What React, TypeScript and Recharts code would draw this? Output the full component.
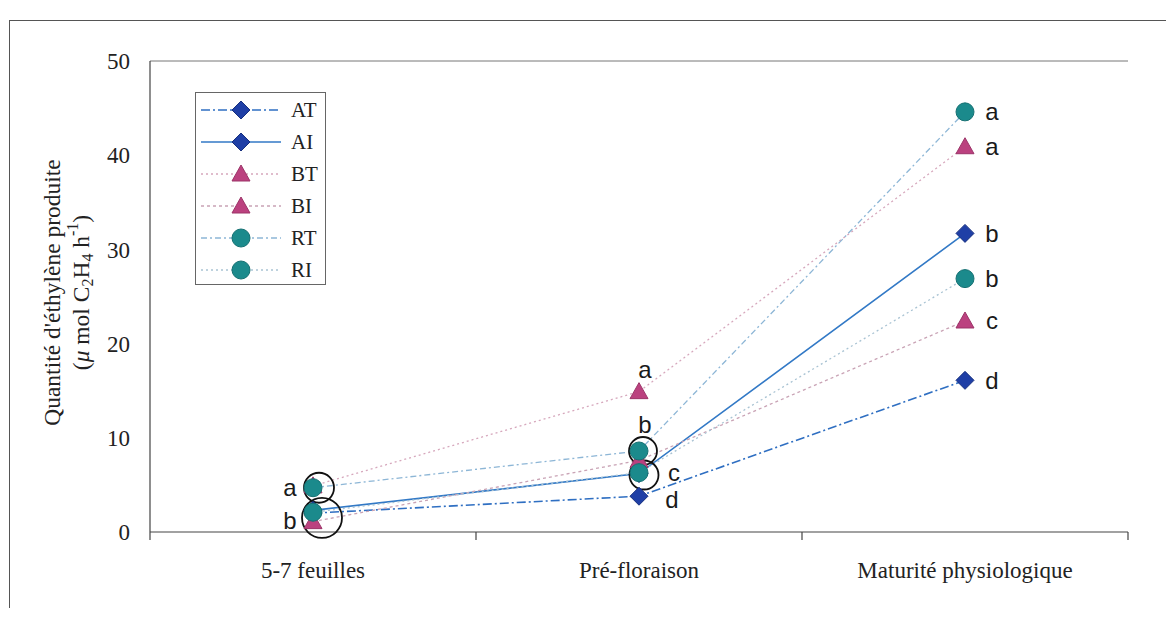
import React from 'react'
import {
  LineChart,
  Line,
  XAxis,
  YAxis,
  Legend,
  LabelList,
  ReferenceDot,
  ReferenceLine,
} from 'recharts'

const STAGES = ['5-7 feuilles', 'Pré-floraison', 'Maturité physiologique']
const Y_TICKS = [0, 10, 20, 30, 40, 50]

const AT = [2.0, 3.8, 16.1]
const AI = [2.3, 6.2, 31.7]
const BT = [4.9, 14.9, 40.9]
const BI = [1.1, 7.6, 22.4]
const RT = [4.7, 8.6, 44.6]
const RI = [2.1, 6.3, 26.9]

// significance letters, one per stage ('' = none drawn)
const AT_LETTERS = ['', 'd', 'd']
const AI_LETTERS = ['', '', 'b']
const BT_LETTERS = ['', 'a', 'a']
const BI_LETTERS = ['', '', 'c']
const RT_LETTERS = ['a', 'b', 'a']
const RI_LETTERS = ['b', 'c', 'b']

const SERIF = '"Liberation Serif", "Times New Roman", serif'
const SANS = '"Liberation Sans", Arial, sans-serif'

type Kind = 'diamond' | 'triangle' | 'circle'

const FILLS: Record<Kind, { fill: string; stroke: string }> = {
  diamond: { fill: '#1f3fa6', stroke: '#17307f' },
  triangle: { fill: '#bb417f', stroke: '#9c3468' },
  circle: { fill: '#1b8a8c', stroke: '#157072' },
}

const SERIES = [
  { key: 'AT', values: AT, letters: AT_LETTERS, kind: 'diamond' as Kind, color: '#2f6fc2', dash: '9 3 2 3', width: 1.6,
    offsets: [[0, 0], [33, 3], [27, 0]] },
  { key: 'AI', values: AI, letters: AI_LETTERS, kind: 'diamond' as Kind, color: '#3279c6', dash: undefined, width: 1.6,
    offsets: [[0, 0], [0, 0], [27, 0]] },
  { key: 'BT', values: BT, letters: BT_LETTERS, kind: 'triangle' as Kind, color: '#d6a7bc', dash: '2 3', width: 1.3,
    offsets: [[0, 0], [6, -22], [27, 0]] },
  { key: 'BI', values: BI, letters: BI_LETTERS, kind: 'triangle' as Kind, color: '#c9a3b5', dash: '3 3', width: 1.3,
    offsets: [[0, 0], [0, 0], [27, 0]] },
  { key: 'RT', values: RT, letters: RT_LETTERS, kind: 'circle' as Kind, color: '#8db6d6', dash: '6 3 2 3', width: 1.3,
    offsets: [[-23, 0], [6, -26], [27, 0]] },
  { key: 'RI', values: RI, letters: RI_LETTERS, kind: 'circle' as Kind, color: '#a9c3d3', dash: '2 3', width: 1.3,
    offsets: [[-23, 8], [35, 0], [27, 0]] },
]

const data = STAGES.map((stage, i) => {
  const row: Record<string, string | number> = { stage }
  SERIES.forEach(s => { row[s.key] = s.values[i] })
  return row
})

// hand-drawn rings around the clustered points
const RINGS = [
  { stage: 0, y: RT[0], r: 15, dx: 6 },
  { stage: 0, y: 1.5, r: 20, dx: 9 },
  { stage: 1, y: RT[1], r: 14, dx: 4 },
  { stage: 1, y: 6.05, r: 14.5, dx: 5 },
]

const X_TICK_MARGIN = 30

function Marker({ kind, cx, cy }: { kind: Kind; cx: number; cy: number }) {
  const { fill, stroke } = FILLS[kind]
  if (kind === 'diamond') {
    return (
      <polygon
        points={`${cx},${cy - 9} ${cx + 9},${cy} ${cx},${cy + 9} ${cx - 9},${cy}`}
        fill={fill}
        stroke={stroke}
        strokeWidth={1}
      />
    )
  }
  if (kind === 'triangle') {
    return (
      <polygon
        points={`${cx},${cy - 9} ${cx + 9},${cy + 7} ${cx - 9},${cy + 7}`}
        fill={fill}
        stroke={stroke}
        strokeWidth={1}
      />
    )
  }
  return <circle cx={cx} cy={cy} r={9} fill={fill} stroke={stroke} strokeWidth={1} />
}

// stage label plus the small tick marks on the slot boundaries
function StageTick(props: any) {
  const { x, y, payload, index, visibleTicksCount } = props
  const half = payload?.offset ?? 0
  const y0 = y - X_TICK_MARGIN
  const isLast = index === (visibleTicksCount ?? STAGES.length) - 1
  return (
    <g>
      {half > 0 && <line x1={x - half} x2={x - half} y1={y0} y2={y0 + 8} stroke="#444" strokeWidth={1.2} />}
      {half > 0 && isLast && <line x1={x + half} x2={x + half} y1={y0} y2={y0 + 8} stroke="#444" strokeWidth={1.2} />}
      <text x={x} y={y} dy="0.71em" textAnchor="middle" fontSize={23} fontFamily={SERIF} fill="#222">
        {payload.value}
      </text>
    </g>
  )
}

function LegendBox() {
  return (
    <svg width={132} height={194} style={{ display: 'block' }}>
      <rect x={0.5} y={0.5} width={130} height={192} fill="#fff" stroke="#666" />
      {SERIES.map((s, i) => {
        const y = 18 + i * 32
        return (
          <g key={s.key}>
            <line x1={6} x2={86} y1={y} y2={y} stroke={s.color} strokeWidth={s.width} strokeDasharray={s.dash} />
            <Marker kind={s.kind} cx={46} cy={y} />
            <text x={96} y={y} dominantBaseline="central" fontSize={21} fontFamily={SERIF} fill="#222">
              {s.key}
            </text>
          </g>
        )
      })}
    </svg>
  )
}

function YTitle({ viewBox }: any) {
  const cy = viewBox.y + viewBox.height / 2 - 4
  const x1 = viewBox.x + 44
  const x2 = viewBox.x + 73
  return (
    <g fontFamily={SERIF} fill="#222">
      <text
        x={x1}
        y={cy}
        fontSize={23.5}
        textAnchor="middle"
        dominantBaseline="central"
        transform={`rotate(-90, ${x1}, ${cy})`}
      >
        Quantité d'éthylène produite
      </text>
      <text
        x={x2}
        y={cy}
        fontSize={23.5}
        textAnchor="middle"
        dominantBaseline="central"
        transform={`rotate(-90, ${x2}, ${cy})`}
      >
        (<tspan fontStyle="italic">μ</tspan> mol C
        <tspan fontSize={16} dy={6}>2</tspan>
        <tspan dy={-6}>H</tspan>
        <tspan fontSize={16} dy={6}>4</tspan>
        <tspan dy={-6}> h</tspan>
        <tspan fontSize={16} dy={-9}>-1</tspan>
        <tspan dy={9}>)</tspan>
      </text>
    </g>
  )
}

export default function App() {
  return (
    <div style={{ position: 'relative', width: 1158, height: 600, background: '#fff' }}>
      <div
        style={{
          position: 'absolute',
          left: 1,
          top: 12,
          width: 1160,
          height: 595,
          borderLeft: '1.5px solid #555',
          borderTop: '1.5px solid #555',
          pointerEvents: 'none',
        }}
      />
      <LineChart width={1158} height={600} data={data} margin={{ top: 53, right: 38, left: 0, bottom: 0 }}>
        <XAxis
          dataKey="stage"
          scale="band"
          height={76}
          tickLine={false}
          tickSize={0}
          tickMargin={X_TICK_MARGIN}
          axisLine={{ stroke: '#444', strokeWidth: 1.2 }}
          tick={StageTick}
        />
        <YAxis
          domain={[0, 50]}
          ticks={Y_TICKS}
          width={142}
          tickLine={false}
          tickSize={0}
          tickMargin={20}
          axisLine={{ stroke: '#444', strokeWidth: 1.2 }}
          tick={{ fill: '#222', fontSize: 23, fontFamily: SERIF }}
          label={{ content: (p: any) => <YTitle viewBox={p.viewBox} /> }}
        />
        {/* right-hand edge of the plot frame */}
        <YAxis
          yAxisId="right"
          orientation="right"
          domain={[0, 50]}
          allowDataOverflow
          width={0}
          tick={false}
          tickLine={false}
          axisLine={{ stroke: '#777' }}
        />
        <ReferenceLine y={50} stroke="#777" />
        <Legend
          layout="vertical"
          align="center"
          verticalAlign="middle"
          wrapperStyle={{ left: 187, top: 84, width: 132 }}
          content={() => <LegendBox />}
        />
        {/* invisible series so the right frame axis gets a domain */}
        <Line
          yAxisId="right"
          dataKey="AT"
          stroke="none"
          dot={false}
          activeDot={false}
          legendType="none"
          isAnimationActive={false}
        />
        {SERIES.map(s => (
          <Line
            key={s.key}
            dataKey={s.key}
            type="linear"
            stroke={s.color}
            strokeWidth={s.width}
            strokeDasharray={s.dash}
            isAnimationActive={false}
            activeDot={false}
            dot={(p: any) => <Marker key={`${s.key}-${p.index}`} kind={s.kind} cx={p.cx} cy={p.cy} />}
          >
            <LabelList
              dataKey={s.key}
              content={(p: any) => {
                const letter = s.letters[p.index]
                if (!letter) return null
                const [dx, dy] = s.offsets[p.index]
                return (
                  <text
                    x={p.x + dx}
                    y={p.y + dy}
                    textAnchor="middle"
                    dominantBaseline="central"
                    fontSize={24}
                    fontFamily={SANS}
                    fill="#1a1a1a"
                  >
                    {letter}
                  </text>
                )
              }}
            />
          </Line>
        ))}
        {RINGS.map((ring, i) => (
          <ReferenceDot
            key={`ring-${i}`}
            x={STAGES[ring.stage]}
            y={ring.y}
            r={ring.r}
            ifOverflow="visible"
            shape={(p: any) => (
              <circle cx={p.cx + ring.dx} cy={p.cy} r={ring.r} fill="none" stroke="#111" strokeWidth={1.8} />
            )}
          />
        ))}
      </LineChart>
    </div>
  )
}
